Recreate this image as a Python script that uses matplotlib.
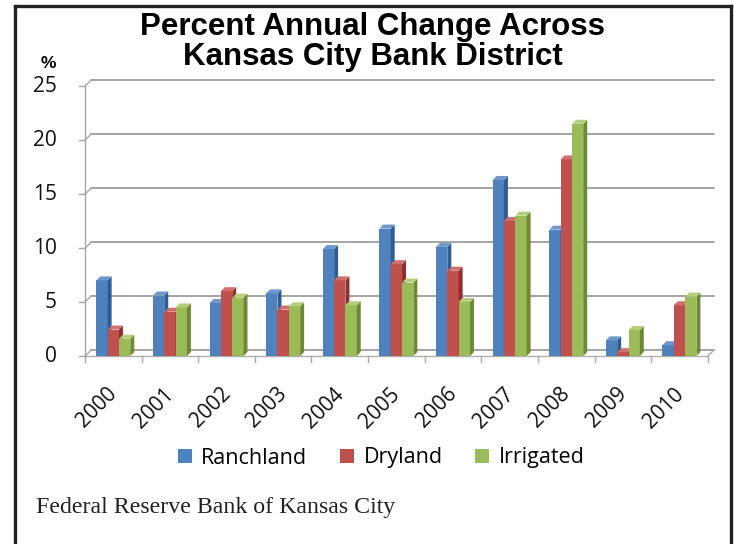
import matplotlib
matplotlib.use("Agg")
import matplotlib.pyplot as plt
from matplotlib.lines import Line2D
from matplotlib.patches import Patch

years = ["2000", "2001", "2002", "2003", "2004", "2005",
         "2006", "2007", "2008", "2009", "2010"]
ranchland = [7.0, 5.6, 4.9, 5.8, 9.9, 11.8, 10.1, 16.3, 11.7, 1.45, 1.0]
dryland = [2.45, 4.1, 6.0, 4.3, 7.0, 8.5, 7.9, 12.5, 18.2, 0.35, 4.7]
irrigated = [1.6, 4.5, 5.4, 4.6, 4.7, 6.8, 5.0, 13.0, 21.5, 2.4, 5.5]
y_ticks = [0, 5, 10, 15, 20, 25]

series = [
    ("Ranchland", ranchland, "#4f81bd", "#2d5d95", "#6d98cc"),
    ("Dryland", dryland, "#c0504d", "#8e2f2c", "#d0706d"),
    ("Irrigated", irrigated, "#9bbb59", "#6c8a32", "#b4cf7c"),
]

W, H = 734, 544
fig = plt.figure(figsize=(W / 100, H / 100), dpi=100)

# plot area in pixel terms
x0, x1 = 85, 714
y0, ytop = 356, 86
ax = fig.add_axes([x0 / W, 1 - y0 / H, (x1 - x0) / W, (y0 - ytop) / H])

DX, DY = 0.11, 0.55      # back-wall offset (data units)
bw = 0.2                 # bar width
dx, dy = 0.07, 0.37      # bar depth

ax.set_xlim(-0.5, 10.5 + DX)
ax.set_ylim(0, 25)
for s in ax.spines.values():
    s.set_visible(False)

grid_c = "#8c8c8c"
# back wall gridlines and connectors to the left axis
for v in y_ticks:
    ax.plot([-0.5 + DX, 10.5 + DX], [v + DY, v + DY], color=grid_c, lw=1.1,
            clip_on=False, zorder=1)
    ax.plot([-0.5, -0.5 + DX], [v, v + DY], color="#a8a8a8", lw=1.0,
            clip_on=False, zorder=1)
    ax.plot([-0.5 - 0.1, -0.5], [v, v], color="#a8a8a8", lw=1.0,
            clip_on=False, zorder=1)
# left axis and floor
ax.plot([-0.5, -0.5], [0, 25], color="#a8a8a8", lw=1.0, clip_on=False, zorder=1)
ax.plot([-0.5, 10.5], [0, 0], color="#b0b0b0", lw=1.0, clip_on=False, zorder=1)
ax.plot([10.5, 10.5 + DX], [0, DY], color="#b0b0b0", lw=1.0, clip_on=False, zorder=1)
for b in range(12):
    ax.plot([b - 0.5, b - 0.5], [0, -0.55], color="#a8a8a8", lw=1.0,
            clip_on=False, zorder=1)

# 3D-looking columns: front face, side face, top face
for i in range(len(years)):
    for k, (name, vals, c, cs, ct) in enumerate(series):
        left = i - 1.5 * bw + k * bw
        v = vals[i]
        ax.bar(left, v, width=bw, align="edge", color=c, zorder=3 + k)
        ax.fill([left + bw, left + bw + dx, left + bw + dx, left + bw],
                [0, dy, v + dy, v], color=cs, zorder=3 + k, lw=0)
        ax.fill([left, left + dx, left + bw + dx, left + bw],
                [v, v + dy, v + dy, v], color=ct, zorder=3 + k, lw=0)

ax.set_xticks([])
ax.set_yticks([])

label_font = ["Open Sans", "DejaVu Sans"]
for v in y_ticks:
    ax.annotate(str(v), (-0.5, v), xytext=(-28, 0), textcoords="offset pixels",
                ha="right", va="center", fontsize=15, family=label_font,
                color="#111111")
for i, yr in enumerate(years):
    ax.annotate(yr, (i + 0.05, 0), xytext=(-2, -35), textcoords="offset pixels",
                ha="right", va="center", rotation=45, rotation_mode="anchor",
                fontsize=15, family=label_font, color="#111111")

fig.text(48 / W, 1 - 64 / H, "%", ha="center", va="center", fontsize=12.5,
         fontweight="bold", family=["Liberation Sans", "DejaVu Sans"])

title_font = ["Liberation Sans", "DejaVu Sans"]
fig.text(372 / W, 1 - 35 / H, "Percent Annual Change Across",
         ha="center", va="baseline", fontsize=22.5, fontweight="bold",
         family=title_font)
fig.text(373 / W, 1 - 65 / H, "Kansas City Bank District",
         ha="center", va="baseline", fontsize=22.5, fontweight="bold",
         family=title_font)

handles = [Patch(facecolor=c, edgecolor="none", label=name)
           for name, vals, c, cs, ct in series]
fig.legend(handles=handles, loc="center", bbox_to_anchor=(381 / W, 1 - 458 / H),
           ncol=3, frameon=False, handlelength=0.65,
           handleheight=0.65, handletextpad=0.45, columnspacing=1.5,
           prop={"family": label_font, "size": 15.5})

fig.text(36 / W, 1 - 508 / H, "Federal Reserve Bank of Kansas City",
         ha="left", va="center", fontsize=17.2,
         family=["Liberation Serif", "DejaVu Serif"], color="#222222")

# outer frame, open at the bottom
frame = dict(color="#222222", lw=2.4, solid_capstyle="projecting")
fig.add_artist(Line2D([15 / W, 15 / W], [0, 1 - 6 / H], transform=fig.transFigure, **frame))
fig.add_artist(Line2D([15 / W, 731 / W], [1 - 6 / H, 1 - 6 / H], transform=fig.transFigure, **frame))
fig.add_artist(Line2D([731 / W, 731 / W], [0, 1 - 6 / H], transform=fig.transFigure, **frame))

fig.savefig("out.png", dpi=100, facecolor="white")
